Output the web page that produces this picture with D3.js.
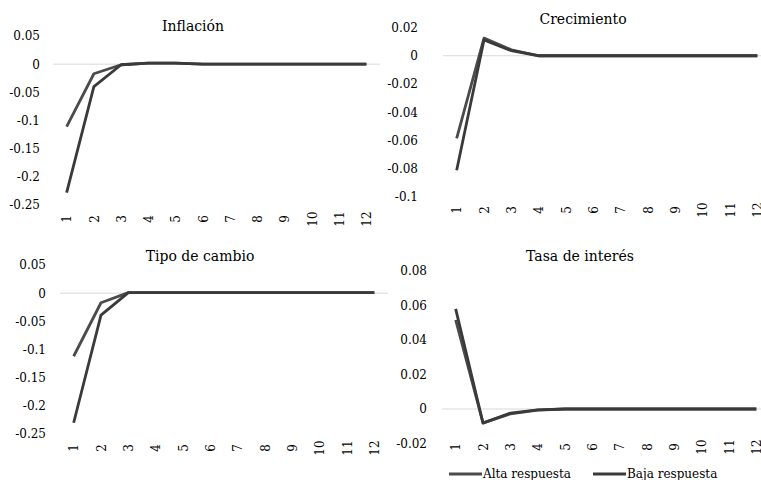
<!DOCTYPE html>
<html>
<head>
<meta charset="utf-8">
<script src="https://cdn.jsdelivr.net/npm/d3@7/dist/d3.min.js"></script>
<style>
  body { margin: 0; background: #fff; }
  svg { font-family: "DejaVu Serif", serif; }
</style>
</head>
<body>
<svg id="chart" width="761" height="480"></svg>
<script>
// periods
var categories = ["1","2","3","4","5","6","7","8","9","10","11","12"]
var seriesNames = ["Alta respuesta", "Baja respuesta"]

// responses (alta / baja)
var inflAlta = [-0.111, -0.017, -0.001, 0.002, 0.002, 0, 0, 0, 0, 0, 0, 0]
var inflBaja = [-0.228, -0.040, -0.001, 0.002, 0.002, 0, 0, 0, 0, 0, 0, 0]
var crecAlta = [-0.0585, 0.0125, 0.0042, 0, 0, 0, 0, 0, 0, 0, 0, 0]
var crecBaja = [-0.081, 0.0112, 0.0036, 0, 0, 0, 0, 0, 0, 0, 0, 0]
var tipoAlta = [-0.112, -0.017, 0.001, 0.001, 0.001, 0.001, 0.001, 0.001, 0.001, 0.001, 0.001, 0.001]
var tipoBaja = [-0.230, -0.039, 0.001, 0.001, 0.001, 0.001, 0.001, 0.001, 0.001, 0.001, 0.001, 0.001]
var tasaAlta = [0.0516, -0.008, -0.0028, -0.0006, 0, 0, 0, 0, 0, 0, 0, 0]
var tasaBaja = [0.058, -0.0082, -0.0024, -0.0005, 0, 0, 0, 0, 0, 0, 0, 0]

// tick values of each panel
var inflTicks = [0.05, 0, -0.05, -0.1, -0.15, -0.2, -0.25]
var crecTicks = [0.02, 0, -0.02, -0.04, -0.06, -0.08, -0.1]
var tipoTicks = [0.05, 0, -0.05, -0.1, -0.15, -0.2, -0.25]
var tasaTicks = [0.08, 0.06, 0.04, 0.02, 0, -0.02]

var colors = ["#4b4b4b", "#3a3a3a"]

var svg = d3.select("#chart")

function drawPanel(p) {
  var g = svg.append("g")

  var x = d3.scalePoint().domain(categories).range([p.x0, p.x1]).padding(0.5)
  var y = d3.scaleLinear().domain(d3.extent(p.ticks)).range([p.bottom, p.top])

  // zero gridline
  g.append("line")
    .attr("x1", p.x0).attr("x2", p.x1)
    .attr("y1", y(0)).attr("y2", y(0))
    .attr("stroke", "#d9d9d9").attr("stroke-width", 1)

  var axisY = g.append("g")
    .attr("transform", "translate(" + p.labelX + ",0)")
    .call(d3.axisLeft(y).tickValues(p.ticks).tickSize(0).tickPadding(0)
      .tickFormat(function(d) { return String(+d.toFixed(2)) }))
  axisY.select(".domain").remove()
  axisY.selectAll("text").attr("font-size", 12).attr("fill", "#000").attr("font-family", "DejaVu Serif")

  var axisX = g.append("g")
    .attr("transform", "translate(0," + p.labelY + ")")
    .call(d3.axisBottom(x).tickSize(0))
  axisX.select(".domain").remove()
  axisX.selectAll("text")
    .attr("transform", "rotate(-90)")
    .attr("x", 0).attr("y", 0).attr("dy", "0.35em")
    .attr("text-anchor", "middle")
    .attr("font-size", 12).attr("fill", "#000").attr("font-family", "DejaVu Serif")

  var line = d3.line()
    .x(function(d, i) { return x(categories[i]) })
    .y(function(d) { return y(d) })

  p.series.forEach(function(s, i) {
    g.append("path")
      .datum(s)
      .attr("d", line)
      .attr("fill", "none")
      .attr("stroke", colors[i])
      .attr("stroke-width", 2.8)
      .attr("stroke-linejoin", "round")
  })

  g.append("text")
    .text(p.title)
    .attr("x", p.titleX).attr("y", p.titleY)
    .attr("text-anchor", "middle")
    .attr("font-size", 14)
}

drawPanel({ title: "Inflación", titleX: 193, titleY: 31, x0: 53, x1: 380, top: 36, bottom: 205,
  labelX: 40, labelY: 219, ticks: inflTicks, series: [inflAlta, inflBaja] })
drawPanel({ title: "Crecimiento", titleX: 583, titleY: 24, x0: 443, x1: 771, top: 27.5, bottom: 197,
  labelX: 418, labelY: 210, ticks: crecTicks, series: [crecAlta, crecBaja] })
drawPanel({ title: "Tipo de cambio", titleX: 200, titleY: 261, x0: 60, x1: 388, top: 265, bottom: 434,
  labelX: 46, labelY: 448, ticks: tipoTicks, series: [tipoAlta, tipoBaja] })
drawPanel({ title: "Tasa de interés", titleX: 580, titleY: 261, x0: 442, x1: 770, top: 271, bottom: 443.5,
  labelX: 427, labelY: 447, ticks: tasaTicks, series: [tasaAlta, tasaBaja] })

// legend
var legend = svg.append("g").attr("transform", "translate(449,474)")
var legendPos = [0, 144]
seriesNames.forEach(function(name, i) {
  var lg = legend.append("g").attr("transform", "translate(" + legendPos[i] + ",0)")
  lg.append("line").attr("x1", 0).attr("x2", 33).attr("y1", 0).attr("y2", 0)
    .attr("stroke", colors[i]).attr("stroke-width", 2.8)
  lg.append("text").text(name).attr("x", 34).attr("y", 0).attr("dy", "0.35em")
    .attr("font-size", 12)
})
</script>
</body>
</html>
